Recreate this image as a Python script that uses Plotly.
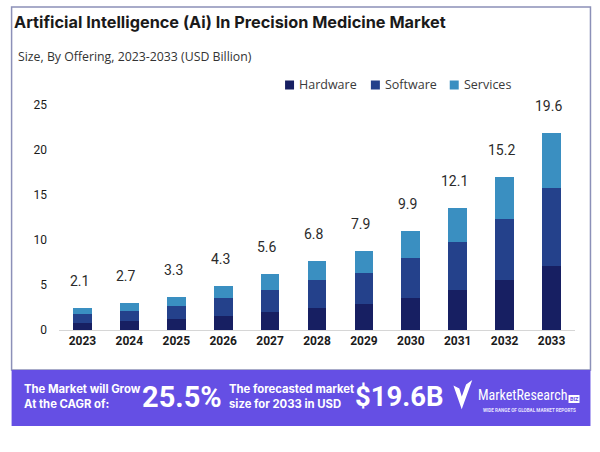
import plotly.graph_objects as go

years = ["2023", "2024", "2025", "2026", "2027", "2028", "2029", "2030", "2031", "2032", "2033"]
hardware = [0.81, 1.00, 1.19, 1.52, 2.04, 2.48, 2.93, 3.56, 4.44, 5.59, 7.15]
software = [0.93, 1.11, 1.48, 2.04, 2.44, 3.04, 3.40, 4.48, 5.34, 6.74, 8.66]
services = [0.67, 0.93, 0.96, 1.29, 1.74, 2.11, 2.45, 2.96, 3.78, 4.67, 6.08]
total_labels = ["2.1", "2.7", "3.3", "4.3", "5.6", "6.8", "7.9", "9.9", "12.1", "15.2", "19.6"]
y_ticks = [0, 5, 10, 15, 20, 25]
series_names = ["Hardware", "Software", "Services"]

colors = {"Hardware": "#171f62", "Software": "#24418b", "Services": "#3a8fc1"}

W, H = 600, 452
L, R, T, B = 58.5, 24.5, 100, 122
PW, PH = W - L - R, H - T - B


def px(x):
    return (x - L) / PW


def py(y):
    return (H - B - y) / PH


fig = go.Figure()
for name, vals in zip(series_names, [hardware, software, services]):
    fig.add_trace(go.Bar(x=years, y=vals, name=name, showlegend=False,
                         marker=dict(color=colors[name], line=dict(width=0))))

totals = [a + b + c for a, b, c in zip(hardware, software, services)]

annotations = []
for i, (tot, lab) in enumerate(zip(totals, total_labels)):
    annotations.append(dict(x=i, y=tot, text=lab, showarrow=False, xref="x", yref="y",
                            yanchor="bottom", yshift=17, xshift=-3,
                            font=dict(family="Roboto", size=14, color="#2b2b2b")))

# Title and subtitle
annotations.append(dict(x=px(11), y=py(22), xref="paper", yref="paper", xanchor="left", yanchor="middle",
                        text="<b>Artificial Intelligence (Ai) In Precision Medicine Market</b>", showarrow=False,
                        font=dict(family="Inter", size=16.3, color="#1a1a1a")))
annotations.append(dict(x=px(15), y=py(56), xref="paper", yref="paper", xanchor="left", yanchor="middle",
                        text="Size, By Offering, 2023-2033 (USD Billion)", showarrow=False,
                        font=dict(family="Open Sans", size=12.3, color="#333333")))

# Legend (manual)
legend_sq_x = [285, 371, 450]
shapes = []
for name, sx in zip(series_names, legend_sq_x):
    shapes.append(dict(type="rect", xref="paper", yref="paper", x0=px(sx), x1=px(sx + 9),
                       y0=py(89.5), y1=py(80.5), line=dict(width=0), fillcolor=colors[name]))
    annotations.append(dict(x=px(sx + 12), y=py(85), xref="paper", yref="paper", xanchor="left",
                            yanchor="middle", text=name, showarrow=False,
                            font=dict(family="Open Sans", size=12.5, color="#3a3a3a")))

# Banner texts
white = "#ffffff"
annotations.append(dict(x=px(21), y=py(397), xref="paper", yref="paper", xanchor="left", yanchor="middle",
                        text="<b>The Market will Grow<br>At the CAGR of:</b>", showarrow=False, align="left",
                        font=dict(family="Inter", size=11.3, color=white)))
annotations.append(dict(x=px(182), y=py(397), xref="paper", yref="paper", xanchor="center", yanchor="middle",
                        text="<b>25.5%</b>", showarrow=False,
                        font=dict(family="Roboto", size=29, color=white)))
annotations.append(dict(x=px(227), y=py(397), xref="paper", yref="paper", xanchor="left", yanchor="middle",
                        text="<b>The forecasted market<br>size for 2033 in USD</b>", showarrow=False, align="left",
                        font=dict(family="Inter", size=11.3, color=white)))
annotations.append(dict(x=px(400), y=py(397), xref="paper", yref="paper", xanchor="center", yanchor="middle",
                        text="<b>$19.6B</b>", showarrow=False,
                        font=dict(family="Roboto", size=27.5, color=white)))
annotations.append(dict(x=px(476), y=py(395), xref="paper", yref="paper", xanchor="left", yanchor="middle",
                        text="MarketResearch", showarrow=False,
                        font=dict(family="Liberation Sans Narrow, Roboto Condensed, DejaVu Sans Condensed",
                                  size=14, color=white)))
annotations.append(dict(x=px(574.5), y=py(399), xref="paper", yref="paper", xanchor="center", yanchor="middle",
                        text="<b>BIZ</b>", showarrow=False,
                        font=dict(family="Roboto", size=5.5, color="#654fe4")))
annotations.append(dict(x=px(530), y=py(410), xref="paper", yref="paper", xanchor="center", yanchor="middle",
                        text="<b>WIDE RANGE OF GLOBAL MARKET REPORTS</b>", showarrow=False,
                        font=dict(family="Roboto", size=4.6, color="#e6e2ff")))

shapes += [
    # frame
    dict(type="rect", xref="paper", yref="paper", x0=px(11), x1=px(591), y0=py(370), y1=py(7),
         line=dict(color="#8c90b8", width=1.5), fillcolor="rgba(0,0,0,0)", layer="below"),
    # banner
    dict(type="rect", xref="paper", yref="paper", x0=px(11), x1=px(591), y0=py(426), y1=py(370),
         line=dict(width=0), fillcolor="#654fe4", layer="below"),
    # BIZ box
    dict(type="rect", xref="paper", yref="paper", x0=px(569), x1=px(580), y0=py(403), y1=py(395),
         line=dict(width=0), fillcolor="#ffffff"),
    # check mark logo
    dict(type="path", xref="paper", yref="paper",
         path=(f"M {px(455)},{py(387)} L {px(462)},{py(407)} L {px(471)},{py(382)} "
               f"L {px(467)},{py(385)} L {px(462)},{py(399)} L {px(459)},{py(389)} Z"),
         line=dict(color="#ffffff", width=1.5), fillcolor="#ffffff"),
]

fig.update_layout(
    width=W, height=H,
    margin=dict(l=L, r=R, t=T, b=B, pad=0, autoexpand=False),
    paper_bgcolor="#ffffff", plot_bgcolor="#ffffff",
    barmode="stack", bargap=0.6,
    showlegend=False,
    xaxis=dict(type="category", range=[-0.5, len(years) - 0.5], automargin=False,
               showgrid=False, showline=True, linecolor="#d6d6d6", linewidth=1,
               ticks="", tickfont=dict(family="Roboto", size=12, color="#1a1a1a"),
               tickprefix="<b>", ticksuffix="</b>", fixedrange=True),
    yaxis=dict(range=[0, (H - B - T) / 9.0], tickvals=y_ticks, showgrid=False, zeroline=False,
               automargin=False, showline=False, ticks="",
               tickfont=dict(family="Roboto", size=12, color="#1a1a1a"),
               tickprefix="<b>", ticksuffix="</b>", ticklabelstandoff=11),
    annotations=annotations,
    shapes=shapes,
)

fig.write_html("out.html", config={"displayModeBar": False},
               post_script="document.body.style.margin='0';document.body.style.padding='0';")
